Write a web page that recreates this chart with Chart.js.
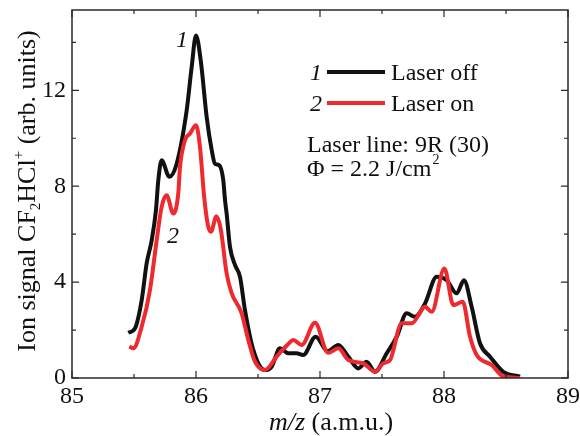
<!DOCTYPE html>
<html>
<head>
<meta charset="utf-8">
<script src="https://cdn.jsdelivr.net/npm/chart.js@4.4.1/dist/chart.umd.min.js"></script>
<style>
  html, body { margin: 0; padding: 0; background: #fff; }
  #wrap { width: 580px; height: 436px; position: relative; }
</style>
</head>
<body>
<div id="wrap"><canvas id="ionChart"></canvas></div>
<script>
// curve 1: laser off
const offMz = [85.454, 85.508, 85.562, 85.602, 85.643, 85.677, 85.696, 85.723, 85.785, 85.844,
    85.925, 85.965, 86.0, 86.038, 86.086, 86.127, 86.153, 86.188, 86.22, 86.234,
    86.247, 86.274, 86.315, 86.355, 86.395, 86.462, 86.556, 86.61, 86.677, 86.745,
    86.81, 86.865, 86.965, 87.062, 87.148, 87.228, 87.309, 87.376, 87.444, 87.538,
    87.619, 87.699, 87.766, 87.847, 87.941, 88.022, 88.102, 88.161, 88.223, 88.29,
    88.371, 88.478, 88.613];
const offSignal = [1.89, 2.07, 3.25, 4.78, 5.75, 7.0, 8.25, 9.08, 8.39, 8.94,
    11.17, 12.97, 14.29, 13.25, 10.89, 9.5, 8.94, 8.87, 8.25, 7.42,
    6.86, 5.47, 4.71, 4.22, 2.83, 1.17, 0.33, 0.47, 1.24, 1.03,
    1.03, 0.96, 1.72, 1.12, 1.38, 0.89, 0.4, 0.68, 0.26, 1.03,
    1.72, 2.7, 2.55, 3.11, 4.22, 4.08, 3.53, 4.08, 2.97, 1.45,
    0.89, 0.26, 0.06];

// curve 2: laser on
const onMz = [85.462, 85.495, 85.562, 85.629, 85.683, 85.723, 85.763, 85.817, 85.857, 85.871,
    85.911, 85.952, 86.0, 86.032, 86.065, 86.095, 86.12, 86.165, 86.2, 86.247,
    86.288, 86.368, 86.422, 86.476, 86.556, 86.65, 86.74, 86.785, 86.852, 86.96,
    87.065, 87.148, 87.228, 87.349, 87.444, 87.51, 87.565, 87.659, 87.74, 87.847,
    87.901, 88.003, 88.075, 88.151, 88.21, 88.264, 88.385, 88.478, 88.613];
const onSignal = [1.31, 1.24, 2.14, 3.67, 5.75, 7.14, 7.62, 6.86, 7.7, 8.8,
    9.92, 10.2, 10.54, 9.64, 7.6, 6.4, 6.1, 6.75, 6.2, 4.36,
    3.53, 2.7, 1.58, 0.68, 0.33, 0.89, 1.4, 1.58, 1.38, 2.3,
    1.05, 1.24, 0.75, 0.61, 0.26, 0.61, 0.75, 2.28, 2.28, 2.97,
    2.76, 4.57, 3.04, 3.18, 1.72, 0.96, 0.54, 0.06, 0.0];

const seriesNames = ['Laser off', 'Laser on'];
const xTicks = [85, 86, 87, 88, 89];
const xMinor = [85.5, 86.5, 87.5, 88.5];
const yTicks = [0, 4, 8, 12];
const yMinor = [2, 6, 10, 14];

const serif = '"Liberation Serif", "Times New Roman", serif';
const black = '#111111';
const red = '#ee2a2f';

const toPoints = (xs, ys) => xs.map((x, i) => ({ x: x, y: ys[i] }));

// frame, inward ticks, legend and titles
const decorPlugin = {
    id: 'decor',
    afterDraw(chart) {
        const c = chart.ctx;
        const a = chart.chartArea;
        const xs = chart.scales.x;
        const ys = chart.scales.y;
        c.save();
        c.strokeStyle = '#2a2a2a';
        c.lineWidth = 1.5;
        c.strokeRect(a.left, a.top, a.right - a.left, a.bottom - a.top);

        c.lineWidth = 1.2;
        const tickX = (v, len) => {
            const px = xs.getPixelForValue(v);
            c.beginPath();
            c.moveTo(px, a.bottom); c.lineTo(px, a.bottom - len);
            c.moveTo(px, a.top); c.lineTo(px, a.top + len);
            c.stroke();
        };
        const tickY = (v, len) => {
            const py = ys.getPixelForValue(v);
            c.beginPath();
            c.moveTo(a.left, py); c.lineTo(a.left + len, py);
            c.moveTo(a.right, py); c.lineTo(a.right - len, py);
            c.stroke();
        };
        xTicks.forEach(v => tickX(v, 7));
        xMinor.forEach(v => tickX(v, 4));
        yTicks.forEach(v => tickY(v, 7));
        yMinor.forEach(v => tickY(v, 4));

        c.fillStyle = '#111';
        c.textBaseline = 'alphabetic';

        // curve labels
        c.font = 'italic 24px ' + serif;
        c.textAlign = 'center';
        c.fillText('1', 182, 47);
        c.fillText('2', 173, 243);

        // legend
        const rows = [
            { num: '1', color: black, y: 72 },
            { num: '2', color: red, y: 103 },
        ];
        rows.forEach((r, i) => {
            c.font = 'italic 24px ' + serif;
            c.textAlign = 'center';
            c.fillText(r.num, 316, r.y + 8);
            c.strokeStyle = r.color;
            c.lineWidth = 4;
            c.beginPath();
            c.moveTo(327, r.y); c.lineTo(385, r.y);
            c.stroke();
            c.font = '24px ' + serif;
            c.textAlign = 'left';
            c.fillText(seriesNames[i], 391, r.y + 8);
        });
        c.font = '24px ' + serif;
        c.fillText('Laser line: 9R (30)', 307, 152);
        const phi = '\u03A6 = 2.2 J/cm';
        c.fillText(phi, 307, 176);
        const pw = c.measureText(phi).width;
        c.font = '14px ' + serif;
        c.fillText('2', 307 + pw + 1, 164);

        // x title
        c.font = 'italic 26px ' + serif;
        const t1 = 'm/z';
        const w1 = c.measureText(t1).width;
        c.font = '26px ' + serif;
        const t2 = ' (a.m.u.)';
        const w2 = c.measureText(t2).width;
        let x0 = 331 - (w1 + w2) / 2;
        c.font = 'italic 26px ' + serif;
        c.fillText(t1, x0, 430);
        c.font = '26px ' + serif;
        c.fillText(t2, x0 + w1, 430);

        // y title with sub/superscript
        const parts = [
            { t: 'Ion signal CF', f: '26px ', dy: 0 },
            { t: '2', f: '15px ', dy: 5 },
            { t: 'HCl', f: '26px ', dy: 0 },
            { t: '+', f: '15px ', dy: -12 },
            { t: ' (arb. units)', f: '26px ', dy: 0 },
        ];
        let total = 0;
        parts.forEach(p => { c.font = p.f + serif; p.w = c.measureText(p.t).width; total += p.w; });
        c.translate(35, 191);
        c.rotate(-Math.PI / 2);
        let px = -total / 2;
        parts.forEach(p => {
            c.font = p.f + serif;
            c.fillText(p.t, px, p.dy);
            px += p.w;
        });
        c.restore();
    }
};

const ctx = document.getElementById('ionChart').getContext('2d');
new Chart(ctx, {
    type: 'line',
    data: {
        datasets: [
            {
                label: seriesNames[0],
                data: toPoints(offMz, offSignal),
                borderColor: black,
                borderWidth: 4,
                pointRadius: 0,
                cubicInterpolationMode: 'monotone',
                order: 1,
            },
            {
                label: seriesNames[1],
                data: toPoints(onMz, onSignal),
                borderColor: red,
                borderWidth: 4,
                pointRadius: 0,
                cubicInterpolationMode: 'monotone',
                order: 0,
            },
        ],
    },
    options: {
        responsive: true,
        maintainAspectRatio: false,
        animation: false,
        layout: { padding: { left: 0, right: 12, top: 10, bottom: 0 } },
        plugins: {
            legend: { display: false },
            tooltip: { enabled: false },
        },
        scales: {
            x: {
                type: 'linear',
                min: 85,
                max: 89,
                afterBuildTicks: s => { s.ticks = xTicks.map(v => ({ value: v })); },
                afterFit: s => {
                    s.height = 58;
                    s.paddingLeft = 0;
                    s.paddingRight = 0;
                },
                grid: { display: false, drawTicks: false },
                border: { display: false },
                ticks: {
                    color: '#111',
                    padding: 4,
                    maxRotation: 0,
                    font: { family: serif, size: 24 },
                },
            },
            y: {
                min: 0,
                max: 15.35,
                afterBuildTicks: s => { s.ticks = yTicks.map(v => ({ value: v })); },
                afterFit: s => {
                    s.width = 72;
                    s.paddingTop = 0;
                    s.paddingBottom = 0;
                },
                grid: { display: false, drawTicks: false },
                border: { display: false },
                ticks: {
                    color: '#111',
                    padding: 6,
                    font: { family: serif, size: 24 },
                },
            },
        },
    },
    plugins: [decorPlugin],
});
</script>
</body>
</html>
